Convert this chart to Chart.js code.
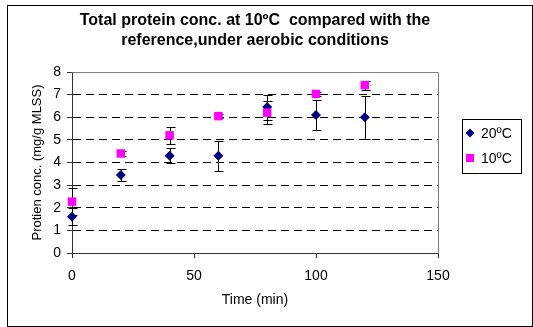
<!DOCTYPE html>
<html>
<head>
<meta charset="utf-8">
<script src="https://cdn.jsdelivr.net/npm/chart.js@4.4.0/dist/chart.umd.min.js"></script>
<style>
    html, body { margin: 0; padding: 0; background: #fff; }
</style>
</head>
<body>
<canvas id="protein-chart" width="533" height="327"></canvas>
<script>
const times = [0, 20, 40, 60, 80, 100, 120];
const conc_20 = [1.6, 3.45, 4.3, 4.3, 6.45, 6.1, 6.0];
const err_20 = [0.37, 0.28, 0.33, 0.67, 0.55, 0.65, 0.95];
const conc_10 = [2.27, 4.4, 5.2, 6.05, 6.2, 7.03, 7.42];
const err_10 = [0.6, 0.1, 0.37, 0.08, 0.5, 0.08, 0.2];
const series_labels = ["20ºC", "10ºC"];
const title_lines = ["Total protein conc. at 10ºC  compared with the", "reference,under aerobic conditions"];

Chart.defaults.font.family = 'Arial, "Liberation Sans", sans-serif';
Chart.defaults.font.size = 14;
Chart.defaults.color = "#000";

// outer frame of the whole figure
const frame_plugin = {
    id: "frame",
    beforeDraw(chart) {
        const ctx = chart.ctx;
        ctx.save();
        ctx.fillStyle = "#fff";
        ctx.fillRect(0, 0, chart.width, chart.height);
        ctx.strokeStyle = "#000";
        ctx.lineWidth = 1;
        ctx.strokeRect(7.5, 5.5, chart.width - 8, chart.height - 6);
        ctx.restore();
    },
    afterDraw(chart) {
        // grey plot border on top and right
        const a = chart.chartArea;
        const ctx = chart.ctx;
        ctx.save();
        ctx.strokeStyle = "#808080";
        ctx.lineWidth = 1;
        ctx.beginPath();
        ctx.moveTo(Math.round(a.left) + 0.5, Math.round(a.top) + 0.5);
        ctx.lineTo(Math.round(a.right) + 0.5, Math.round(a.top) + 0.5);
        ctx.lineTo(Math.round(a.right) + 0.5, Math.round(a.bottom) + 0.5);
        ctx.stroke();
        ctx.restore();
    }
};

// vertical error bars with caps, under the markers
const error_bar_plugin = {
    id: "errorBars",
    beforeDatasetsDraw(chart) {
        const ctx = chart.ctx;
        const xs = chart.scales.x;
        const ys = chart.scales.y;
        ctx.save();
        ctx.strokeStyle = "#000";
        ctx.lineWidth = 1;
        chart.data.datasets.forEach(ds => {
            ds.data.forEach((p, i) => {
                const e = ds.errors[i];
                const x = Math.round(xs.getPixelForValue(p.x)) + 0.5;
                const top = Math.round(ys.getPixelForValue(p.y + e)) + 0.5;
                const bot = Math.round(ys.getPixelForValue(p.y - e)) + 0.5;
                ctx.beginPath();
                ctx.moveTo(x, top);
                ctx.lineTo(x, bot);
                ctx.moveTo(x - 4, top);
                ctx.lineTo(x + 5, top);
                ctx.moveTo(x - 4, bot);
                ctx.lineTo(x + 5, bot);
                ctx.stroke();
            });
        });
        ctx.restore();
    }
};

// boxed legend to the right of the plot
const legend_box_plugin = {
    id: "legendBox",
    afterDraw(chart) {
        const a = chart.chartArea;
        const ctx = chart.ctx;
        const left = Math.round(a.right) + 24;
        const top = Math.round(a.top) + 47;
        ctx.save();
        ctx.strokeStyle = "#000";
        ctx.lineWidth = 1;
        ctx.strokeRect(left + 0.5, top + 0.5, 59, 54);
        ctx.font = '14px Arial, "Liberation Sans", sans-serif';
        ctx.textBaseline = "middle";
        chart.data.datasets.forEach((ds, i) => {
            const cy = top + 14 + i * 25;
            const cx = left + 8;
            ctx.fillStyle = ds.backgroundColor;
            ctx.beginPath();
            if (ds.pointStyle === "rectRot") {
                ctx.moveTo(cx, cy - 4.5);
                ctx.lineTo(cx + 4.5, cy);
                ctx.lineTo(cx, cy + 4.5);
                ctx.lineTo(cx - 4.5, cy);
                ctx.closePath();
            } else {
                ctx.rect(cx - 4, cy - 4, 8, 8);
            }
            ctx.fill();
            ctx.fillStyle = "#000";
            ctx.fillText(ds.label, left + 19, cy + 1);
        });
        ctx.restore();
    }
};

const protein_chart = new Chart(
    document.getElementById("protein-chart"),
    {
        type: "scatter",
        data: {
            datasets: [
                {
                    label: series_labels[0],
                    data: times.map((t, i) => ({ x: t, y: conc_20[i] })),
                    errors: err_20,
                    pointStyle: "rectRot",
                    radius: 5,
                    backgroundColor: "#000080",
                    borderColor: "#000080",
                    borderWidth: 0,
                    clip: false,
                    order: 1
                },
                {
                    label: series_labels[1],
                    data: times.map((t, i) => ({ x: t, y: conc_10[i] })),
                    errors: err_10,
                    pointStyle: "rect",
                    radius: 6,
                    backgroundColor: "#ff00ff",
                    borderColor: "#ff00ff",
                    borderWidth: 0,
                    clip: false,
                    order: 0
                }
            ]
        },
        options: {
            responsive: false,
            animation: false,
            layout: {
                padding: { left: 8, right: 95, top: 0, bottom: 8 }
            },
            scales: {
                x: {
                    type: "linear",
                    min: 0,
                    max: 150,
                    afterFit: function (scale) { scale.height = 66; },
                    ticks: { stepSize: 50, padding: 10, maxRotation: 0 },
                    grid: {
                        drawOnChartArea: false,
                        tickLength: 5,
                        tickColor: "#333"
                    },
                    border: { color: "#333" },
                    title: {
                        display: true,
                        text: "Time (min)",
                        padding: { top: 0, bottom: 10 }
                    }
                },
                y: {
                    min: 0,
                    max: 8,
                    afterFit: function (scale) { scale.width = 64; },
                    ticks: { stepSize: 1, padding: 6 },
                    grid: {
                        color: function (context) {
                            return (context.tick && context.tick.value > 0 && context.tick.value < 8) ? "#000" : "rgba(0,0,0,0)";
                        },
                        tickLength: 5,
                        tickColor: "#333",
                        tickBorderDash: []
                    },
                    border: { color: "#333", dash: [8, 5] },
                    title: {
                        display: true,
                        text: "Protien conc. (mg/g MLSS)",
                        font: { size: 13 },
                        padding: { top: 22, bottom: 0 }
                    }
                }
            },
            plugins: {
                legend: { display: false },
                tooltip: { enabled: false },
                title: {
                    display: true,
                    text: title_lines,
                    fullSize: false,
                    font: { size: 16, weight: "bold", lineHeight: 20 / 16 },
                    padding: { top: 11, bottom: 21 }
                }
            }
        },
        plugins: [frame_plugin, error_bar_plugin, legend_box_plugin]
    }
);
</script>
</body>
</html>
